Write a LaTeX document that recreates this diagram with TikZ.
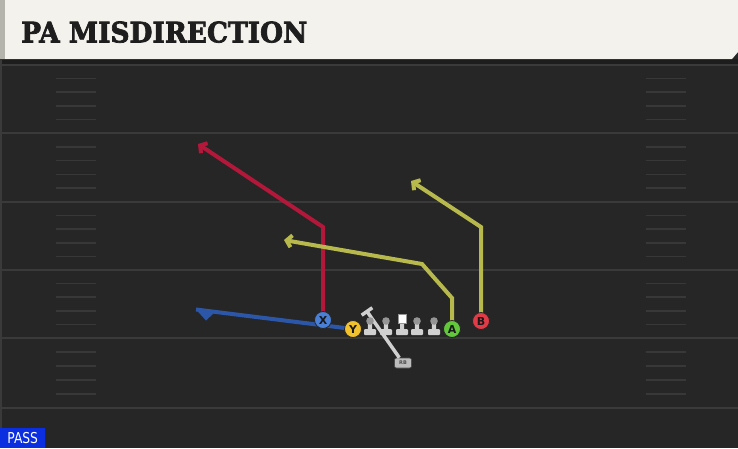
\documentclass[tikz,border=0pt]{standalone}
\usepackage{fontspec}
\setsansfont{DejaVu Sans}
\newfontfamily\titlefont{DejaVu Serif}[UprightFont={* Bold}, FakeBold=2.5]
\usetikzlibrary{arrows.meta}
\definecolor{fieldbg}{HTML}{262626}
\definecolor{fielddark}{HTML}{1D1D1D}
\definecolor{yardcol}{HTML}{3A3A3A}
\definecolor{hashcol}{HTML}{383838}
\definecolor{titlebg}{HTML}{F4F2EC}
\definecolor{titlestrip}{HTML}{B4B4AC}
\definecolor{titletext}{HTML}{1E1E1E}
\definecolor{redroute}{HTML}{B3173A}
\definecolor{yelroute}{HTML}{B8B94C}
\definecolor{bluroute}{HTML}{2C56A8}
\definecolor{xblue}{HTML}{4A7FD6}
\definecolor{yyellow}{HTML}{F2C12E}
\definecolor{agreen}{HTML}{62C73A}
\definecolor{bred}{HTML}{E23B48}
\definecolor{olbody}{HTML}{D0D0D0}
\definecolor{olhead}{HTML}{959595}
\definecolor{rbfill}{HTML}{BDBDBD}
\definecolor{passblue}{HTML}{0B2EE0}
\begin{document}
\begin{tikzpicture}[x=1pt,y=-1pt,
  yardline/.style={draw=yardcol, line width=2pt},
  hashline/.style={draw=hashcol, line width=1.6pt},
  route/.style={line width=4pt, line join=miter, -{Straight Barb[length=5pt,width=12pt]}},
  player/.style={circle, minimum size=17pt, inner sep=0pt, draw=black!85, line width=0.8pt,
    font=\sffamily\bfseries\fontsize{11}{11}\selectfont, text=black!90},
  rbbox/.style={rounded corners=2pt, fill=rbfill, draw=black!70, line width=0.6pt,
    minimum width=17pt, minimum height=10pt, inner sep=0pt,
    font=\sffamily\bfseries\fontsize{5}{5}\selectfont, text=black!70},
  rbline/.style={draw=olbody, line width=3.5pt, -{Bar[width=13pt,line width=3.5pt]}},
  passbox/.style={fill=passblue, anchor=south west, minimum width=45pt, minimum height=20pt,
    inner sep=0pt, text=white, font=\sffamily\fontsize{15}{15}\selectfont}
]
\useasboundingbox (0,0) rectangle (738,448);
% field
\fill[fieldbg] (0,0) rectangle (738,448);
\fill[fielddark] (0,59) rectangle (738,65);
\foreach \yl in {65,133,202,270,338,408} \draw[yardline] (0,\yl) -- (738,\yl);
\foreach \ya/\yb in {65/133,133/202,202/270,270/338,338/408}{
  \foreach \k in {1,...,4}{
    \pgfmathsetmacro\yy{\ya+\k*(\yb-\ya)/5}
    \draw[hashline] (56,\yy) -- (96,\yy);
    \draw[hashline] (646,\yy) -- (686,\yy);
  }
}
\fill[yardcol] (0,59) rectangle (2,448);
% title bar
\fill[titlebg] (0,0) -- (738,0) -- (738,52) -- (732,59) -- (0,59) -- cycle;
\fill[titlestrip] (0,0) rectangle (5,59);
\draw[black!80, line width=1pt] (0,59.5) -- (732,59.5);
\node[anchor=south west, inner sep=0pt, text=titletext] (title) at (21,43)
  {\resizebox{286pt}{21pt}{\titlefont PA MISDIRECTION}};
% players
\node[player, fill=xblue] (X) at (323,320) {X};
\node[player, fill=yyellow] (Y) at (353,329) {Y};
\node[player, fill=agreen] (A) at (452,329) {A};
\node[player, fill=bred] (B) at (481,321) {B};
\node[rbbox] (RB) at (403,363) {RB};
% route points
\coordinate (x1) at (323,227);
\coordinate (x2) at (198,144);
\coordinate (a1) at (452,298);
\coordinate (a2) at (422,264);
\coordinate (a3) at (284,240);
\coordinate (b1) at (481,227);
\coordinate (b2) at (411,181);
\coordinate (y1) at (196,309.5);
\coordinate (rb1) at (366,310);
% routes
\draw[bluroute, line width=4pt] (Y.center) -- (y1);
\fill[bluroute] (y1) -- (214,313) -- (206,320.5) -- cycle;
\draw[route, redroute] (X.center) -- (x1) -- (x2);
\draw[route, yelroute] (A.center) -- (a1) -- (a2) -- (a3);
\draw[route, yelroute] (B.center) -- (b1) -- (b2);
\draw[rbline] (RB) -- (rb1);
% offensive line
\foreach \xl in {370,386,417,434}{
  \fill[olbody, rounded corners=0.8pt] (\xl-2.2,321) rectangle (\xl+2.2,331);
  \fill[olbody, rounded corners=1pt] (\xl-6,329) rectangle (\xl+6,335);
  \fill[olhead] (\xl,321) circle (3.8);
}
\fill[olbody, rounded corners=1pt] (400,322) rectangle (404,331);
\fill[olbody, rounded corners=1pt] (396,329) rectangle (408,335);
\fill[white, draw=olhead, line width=0.6pt] (398,314) rectangle (406,323);
% players on top of routes
\node[player, fill=xblue] at (X) {X};
\node[player, fill=yyellow] at (Y) {Y};
\node[player, fill=agreen] at (A) {A};
\node[player, fill=bred] at (B) {B};
% label
\node[passbox] (pass) at (0,448) {\scalebox{0.82}[1]{PASS}};
\end{tikzpicture}
\end{document}
